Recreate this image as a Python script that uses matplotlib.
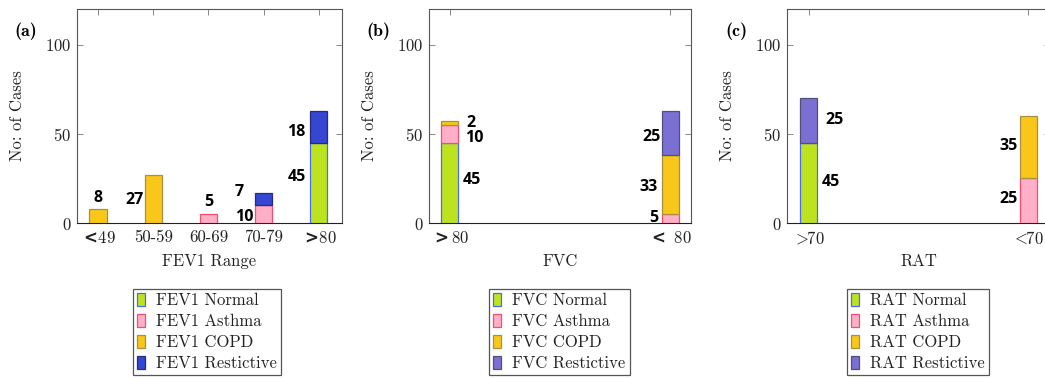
import numpy as np
import matplotlib
matplotlib.use("Agg")
import matplotlib.pyplot as plt
from matplotlib.patches import Patch

plt.rcParams['font.family'] = ['cmr10', 'DejaVu Serif']
plt.rcParams['axes.formatter.use_mathtext'] = True
plt.rcParams['mathtext.fontset'] = 'dejavusans'

# ---------------- data ----------------
fev1_categories = [r'$\mathbf{<}\!$49', '50-59', '60-69', '70-79', r'$\mathbf{>}\!$80']
fev1_normal = [0, 0, 0, 0, 45]
fev1_asthma = [0, 0, 5, 10, 0]
fev1_copd = [8, 27, 0, 0, 0]
fev1_restrictive = [0, 0, 0, 7, 18]

fvc_categories = [r'$\mathbf{>}$80', r'$\mathbf{<}$ 80']
fvc_normal = [45, 0]
fvc_asthma = [10, 5]
fvc_copd = [2, 33]
fvc_restrictive = [0, 25]

rat_categories = [r'$>\!\!$70', r'$<\!\!$70']
rat_normal = [45, 0]
rat_asthma = [0, 25]
rat_copd = [0, 35]
rat_restrictive = [25, 0]

series_names = ['Normal', 'Asthma', 'COPD', 'Restictive']

# ---------------- styles ----------------
fills = {'Normal': '#bde31e', 'Asthma': '#ffafc9', 'COPD': '#f8c71a'}
edges = {'Normal': '#4a6cf0', 'Asthma': '#f0506e', 'COPD': '#a89040'}
restr_fill = {'a': '#3446d2', 'b': '#7b6fd3', 'c': '#7b6fd3'}
restr_edge = {'a': '#2a2a7a', 'b': '#50507a', 'c': '#50507a'}

W, H = 1045, 379
fig = plt.figure(figsize=(W / 100, H / 100), dpi=100)

def fx(px):
    return px / W

def fy(py):
    return 1 - py / H

panels = [
    dict(key='a', prefix='FEV1', xlabel='FEV1 Range', cats=fev1_categories,
         data=[fev1_normal, fev1_asthma, fev1_copd, fev1_restrictive],
         left=77, right=342, xlim=(-0.38, 4.42), width=0.31, legx=133,
         # (series index, category index, dx, y, ha)
         labels=[(2, 0, 0.0, 14, 'center'), (2, 1, -0.18, 13, 'right'),
                 (1, 2, 0.0, 12, 'center'), (3, 3, -0.36, 17.5, 'right'),
                 (1, 3, -0.19, 3.5, 'right'), (3, 4, -0.24, 51, 'right'),
                 (0, 4, -0.24, 26, 'right')]),
    dict(key='b', prefix='FVC', xlabel='FVC', cats=fvc_categories,
         data=[fvc_normal, fvc_asthma, fvc_copd, fvc_restrictive],
         left=429, right=691, xlim=(-0.095, 1.095), width=0.077, legx=489,
         labels=[(2, 0, 0.077, 56, 'left'), (1, 0, 0.068, 47.5, 'left'),
                 (0, 0, 0.059, 24, 'left'), (3, 1, -0.045, 48.5, 'right'),
                 (2, 1, -0.055, 20, 'right'), (1, 1, -0.055, 3, 'right')]),
    dict(key='c', prefix='RAT', xlabel='RAT', cats=rat_categories,
         data=[rat_normal, rat_asthma, rat_copd, rat_restrictive],
         left=787, right=1050, xlim=(-0.1, 1.1), width=0.078, legx=847,
         labels=[(3, 0, 0.073, 58, 'left'), (0, 0, 0.059, 23, 'left'),
                 (2, 1, -0.046, 43, 'right'), (1, 1, -0.046, 13.5, 'right')]),
]

top_px, bot_px = 9, 223

for p in panels:
    ax = fig.add_axes([fx(p['left']), fy(bot_px), fx(p['right'] - p['left']),
                       (bot_px - top_px) / H])
    x = np.arange(len(p['cats']))
    bottom = np.zeros(len(x))
    handles = []
    for si, name in enumerate(series_names):
        vals = np.array(p['data'][si], dtype=float)
        if name == 'Restictive':
            fc, ec = restr_fill[p['key']], restr_edge[p['key']]
        else:
            fc, ec = fills[name], edges[name]
        m = vals > 0
        ax.bar(x[m], vals[m], bottom=bottom[m], width=p['width'], color=fc,
               edgecolor=ec, linewidth=0.9, zorder=3)
        handles.append(Patch(facecolor=fc, edgecolor=ec, linewidth=0.9,
                             label=f"{p['prefix']} {name}"))
        bottom = bottom + vals

    for si, ci, dx, yv, ha in p['labels']:
        val = p['data'][si][ci]
        ax.text(x[ci] + dx, yv, str(val), ha=ha, va='center',
                family='Open Sans', fontweight='bold', fontsize=11.5, zorder=4)

    ax.set_xlim(*p['xlim'])
    ax.set_ylim(0, 120)
    ax.set_xticks(x)
    ax.set_xticklabels(p['cats'], fontsize=12)
    if p['key'] == 'c':
        for t in ax.get_xticklabels():
            t.set_math_fontfamily('cm')
    ax.set_yticks([0, 50, 100])
    ax.tick_params(axis='both', direction='in', top=True, right=True,
                   length=4, width=0.7, color='#888888', labelsize=12,
                   labelcolor='#222222')
    ax.tick_params(axis='y', pad=4)
    ax.tick_params(axis='x', pad=5)
    for s in ax.spines.values():
        s.set_color('#555555')
        s.set_linewidth(0.8)
    ax.spines['bottom'].set_color('#222222')

    ax.set_ylabel('No: of Cases', fontsize=12, color='#222222', va='center')
    ax.yaxis.set_label_coords(-60 / (p['right'] - p['left']), 0.5)
    ax.set_xlabel(p['xlabel'], fontsize=12, color='#222222', va='center')
    ax.xaxis.set_label_coords(0.5, -38 / (bot_px - top_px))

    leg = ax.legend(handles=handles, loc='upper left',
                    bbox_to_anchor=(fx(p['legx']), fy(289)),
                    bbox_transform=fig.transFigure, fontsize=12,
                    fancybox=False, framealpha=1, edgecolor='#555555',
                    handlelength=0.45, handleheight=0.8, handletextpad=0.7,
                    labelspacing=0.33, borderpad=0.25, borderaxespad=0)
    leg.get_frame().set_linewidth(0.9)
    for t in leg.get_texts():
        t.set_color('#222222')

    fig.text(fx(p['left'] - 51), fy(31), f"({p['key']})", family='cmb10',
             fontsize=13, ha='center', va='center')

fig.savefig('out.png', dpi=100, facecolor='white')
